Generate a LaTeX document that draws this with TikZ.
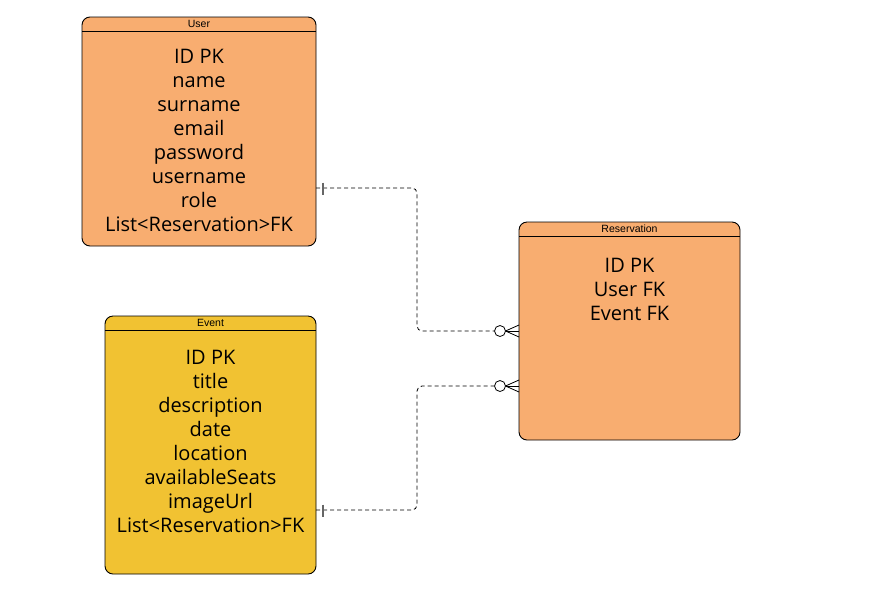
\documentclass[tikz,border=0pt]{standalone}
\usepackage{fontspec}
\setmainfont{Open Sans}
\newfontfamily\hdrfont{Liberation Sans}
\begin{document}
\begin{tikzpicture}[x=1pt,y=-1pt,
  entbox/.style={draw=black,line width=0.9pt,rounded corners=8pt},
  hdrtext/.style={font=\hdrfont\fontsize{10.5}{12}\selectfont,inner sep=0pt,anchor=center},
  bodytext/.style={font=\fontsize{20}{24}\selectfont,align=center,inner sep=0pt,anchor=north},
  rel/.style={draw=black,line width=0.8pt,dash pattern=on 4pt off 3pt,rounded corners=5pt},
  onebar/.style={draw=gray!80!black,line width=1.4pt},
  crow/.style={draw=black,line width=0.8pt}]
\definecolor{orangefill}{HTML}{F8AD70}
\definecolor{yellowfill}{HTML}{F1C232}
\useasboundingbox (0,0) rectangle (869,614);
\fill[white] (0,0) rectangle (869,614);
% User
\draw[entbox,fill=orangefill] (82,17) rectangle (316,246);
\draw[line width=0.9pt] (82,31) -- (316,31);
\node[hdrtext] (userhdr) at (199,24) {User};
\node[bodytext] (userbody) at (199,49.5) {ID PK\\name\\surname\\email\\password\\username\\role\\List<Reservation>FK};
\coordinate (userR) at (316,188);
% Event
\draw[entbox,fill=yellowfill] (105,316) rectangle (316,574);
\draw[line width=0.9pt] (105,330) -- (316,330);
\node[hdrtext] (eventhdr) at (210.5,323) {Event};
\node[bodytext] (eventbody) at (210.5,350) {ID PK\\title\\description\\date\\location\\availableSeats\\imageUrl\\List<Reservation>FK};
\coordinate (eventR) at (316,510);
% Reservation
\draw[entbox,fill=orangefill] (519,222) rectangle (740,440);
\draw[line width=0.9pt] (519,236) -- (740,236);
\node[hdrtext] (reshdr) at (629.5,229) {Reservation};
\node[bodytext] (resbody) at (629.5,258) {ID PK\\User FK\\Event FK};
\coordinate (resA) at (519,331);
\coordinate (resB) at (519,386);
% circles
\node[draw=black,line width=0.8pt,fill=white,circle,minimum size=11pt,inner sep=0pt] (circA) at (500,331) {};
\node[draw=black,line width=0.8pt,fill=white,circle,minimum size=11pt,inner sep=0pt] (circB) at (500,386) {};
% connectors
\draw[rel] (userR) -- (417,188) -- (417,331) -- (circA.west);
\draw[rel] (eventR) -- (417,510) -- (417,386) -- (circB.west);
% one marks
\draw[onebar] (323,182.5) -- (323,194.5);
\draw[onebar] (323,504.5) -- (323,516.5);
% crow's feet
\draw[crow] (circA.east) -- (resA);
\draw[crow] (505.5,331) -- (519,325);
\draw[crow] (505.5,331) -- (519,337);
\draw[crow] (circB.east) -- (resB);
\draw[crow] (505.5,386) -- (519,380);
\draw[crow] (505.5,386) -- (519,392);
\end{tikzpicture}
\end{document}
